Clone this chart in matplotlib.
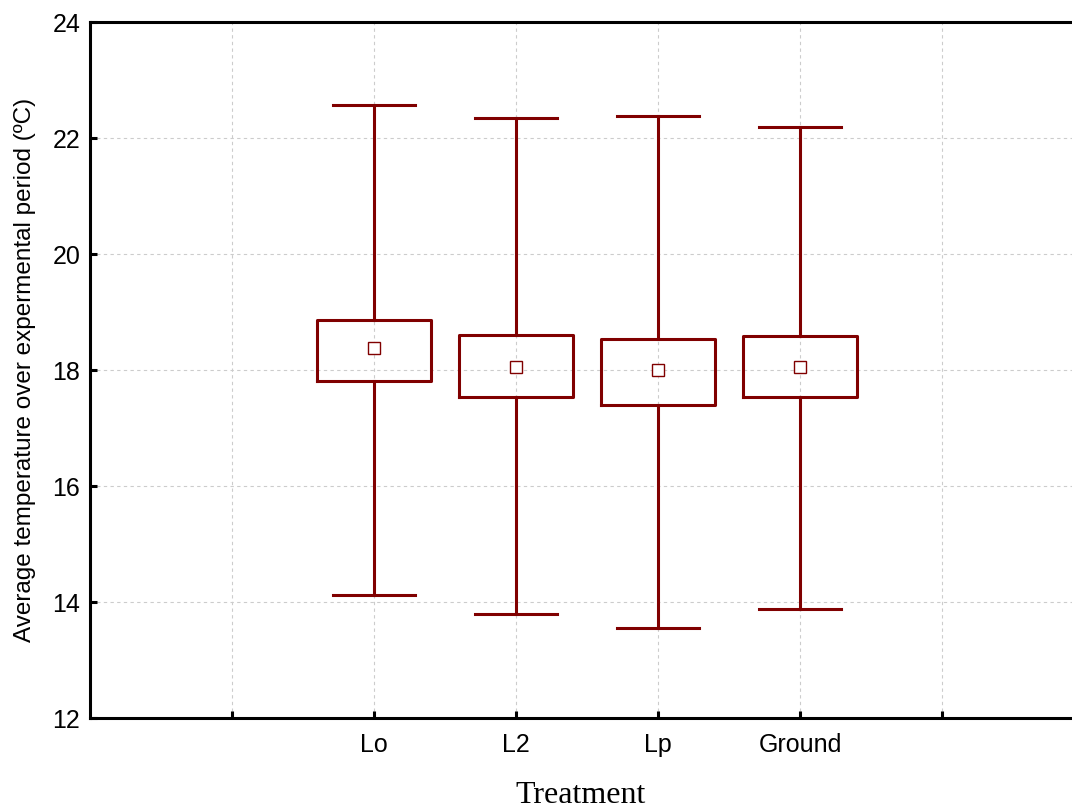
import matplotlib.pyplot as plt

treatments = ["Lo", "L2", "Lp", "Ground"]
means = [18.38, 18.05, 18.00, 18.05]
box_low = [17.81, 17.53, 17.40, 17.53]
box_high = [18.86, 18.60, 18.53, 18.59]
whisk_low = [14.12, 13.79, 13.55, 13.88]
whisk_high = [22.57, 22.34, 22.38, 22.19]

red = "#800000"

plt.rcParams['font.family'] = ['Liberation Sans', 'DejaVu Sans']

fig = plt.figure(figsize=(10.72, 8.10), dpi=100)
ax = fig.add_axes([90/1072, 92/810, 1 - 90/1072, 696/810])

stats = []
for i, name in enumerate(treatments):
	stats.append(dict(label=name, mean=means[i], med=means[i],
		q1=box_low[i], q3=box_high[i], whislo=whisk_low[i], whishi=whisk_high[i], fliers=[]))

pos = [2, 3, 4, 5]
ax.bxp(stats, positions=pos, widths=0.8, capwidths=0.58, showmeans=True,
	boxprops=dict(color=red, lw=2.2),
	whiskerprops=dict(color=red, lw=2.2),
	capprops=dict(color=red, lw=2.2),
	medianprops=dict(visible=False),
	meanprops=dict(marker='s', markersize=8, markerfacecolor='white', markeredgecolor=red, markeredgewidth=1.0),
	zorder=3)

ax.set_xlim(0, 982/142)
ax.set_ylim(12, 24)
ax.set_xticks([1, 2, 3, 4, 5, 6])
ax.set_xticklabels(["", "Lo", "L2", "Lp", "Ground", ""])
ax.set_yticks([12, 14, 16, 18, 20, 22, 24])

ax.grid(True, color="#cccccc", ls=(0, (3, 3)), lw=0.8, zorder=0)
ax.set_axisbelow(True)
ax.spines['right'].set_visible(False)
for s in ['left', 'bottom', 'top']:
	ax.spines[s].set_linewidth(2.2)
ax.tick_params(direction='in', length=5, width=2.2, labelsize=18, pad=7)
ax.tick_params(axis='x', pad=11)

ax.set_ylabel("Average temperature over expermental period (ºC)", fontsize=17.5, labelpad=12)
ax.set_xlabel("Treatment", fontsize=23, family=['Liberation Serif'], labelpad=17)

plt.savefig("out.png")
